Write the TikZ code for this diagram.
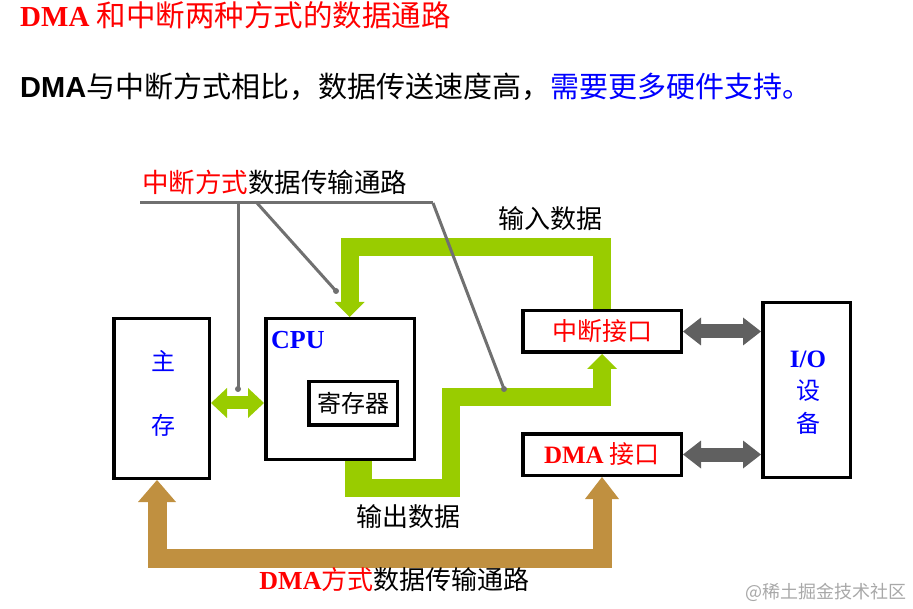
\documentclass[tikz,border=0pt]{standalone}
\usepackage{fontspec}
\usepackage{xcolor}
\usetikzlibrary{arrows.meta}
\setmainfont{Liberation Serif}
\newfontfamily\cjk{Noto Sans CJK SC}
\newfontfamily\sansf{Liberation Sans}
\definecolor{pathgreen}{HTML}{99CC00}
\definecolor{pathbrown}{HTML}{C09040}
\definecolor{portgray}{HTML}{606060}
\definecolor{tapgray}{HTML}{707070}
\definecolor{markgray}{HTML}{A8A8A8}
\newcommand{\zh}[1]{{\cjk #1}}
\newcommand{\sz}[1]{\fontsize{#1}{#1}\selectfont}

\begin{document}
\begin{tikzpicture}[x=1pt,y=-1pt]
\tikzstyle{every node}+=[inner sep=0pt]
\tikzstyle{unit}=[draw=black,line width=3.5pt,fill=white,outer sep=1.75pt]
\tikzstyle{greenflow}=[draw=pathgreen,line width=18pt,line join=miter,-{Triangle[width=30pt,length=15pt,line width=0pt]}]
\tikzstyle{greenbus}=[draw=pathgreen,line width=13pt,{Triangle[width=30pt,length=16pt,line width=0pt]}-{Triangle[width=30pt,length=16pt,line width=0pt]}]
\tikzstyle{brownflow}=[draw=pathbrown,line width=19pt,line join=miter,{Triangle[width=38pt,length=22pt,line width=0pt]}-{Triangle[width=34pt,length=22pt,line width=0pt]}]
\tikzstyle{portbus}=[draw=portgray,line width=14pt,{Triangle[width=28pt,length=18pt,line width=0pt]}-{Triangle[width=28pt,length=18pt,line width=0pt]}]
\tikzstyle{tap}=[draw=tapgray,line width=3pt]
\tikzstyle{tapdot}=[circle,fill=tapgray,minimum size=6pt]
\useasboundingbox (0,0) rectangle (913,609);
\node[anchor=west,text=red] (head) at (20,15) {\sz{29}\bfseries DMA \mdseries\zh{\sz{29.5}和中断两种方式的数据通路}};
\node[anchor=west] (claim) at (20,87) {\sz{29}{\sansf\bfseries DMA}\zh{与中断方式相比，数据传送速度高，\textcolor{blue}{需要更多硬件支持。}}};
\node[unit,minimum width=95.5pt,minimum height=159.5pt] (mem) at (161.5,398.5) {};
\node[text=blue,font=\cjk\sz{24}] (memA) at (163,361) {主};
\node[text=blue,font=\cjk\sz{24}] (memB) at (163,425) {存};
\node[unit,minimum width=148.5pt,minimum height=140.5pt] (cpu) at (340,389) {};
\node[anchor=west,text=blue,font=\bfseries\sz{26}] (cpulbl) at (271,340) {CPU};
\node[unit,minimum width=88.5pt,minimum height=43.5pt,font=\cjk\sz{24}] (reg) at (353,403.5) {寄存器};
\node[unit,minimum width=158.5pt,minimum height=41.5pt,text=red,font=\cjk\sz{25}] (intf) at (602,331.5) {中断接口};
\node[unit,minimum width=158.5pt,minimum height=41.5pt,text=red,font=\sz{25}] (dmaif) at (602,454.5) {\bfseries DMA \mdseries\zh{接口}};
\node[unit,minimum width=87.5pt,minimum height=174.5pt] (io) at (806.5,390) {};
\node[text=blue,font=\bfseries\sz{25}] (ioA) at (808,359) {I/O};
\node[text=blue,font=\cjk\sz{24}] (ioB) at (808,391) {设};
\node[text=blue,font=\cjk\sz{24}] (ioC) at (808,423) {备};
\draw[greenbus] ([yshift=-4.5pt]mem.east) -- ([yshift=-4.5pt]mem.east -| cpu.west);
\draw[greenflow] (intf.north) -- ++(0,-61.5) -| ([xshift=9.5pt]cpu.north);
\fill[pathgreen] (345,461) rectangle (372,497);
\draw[greenflow] ([xshift=18.5pt]cpu.south) |- (451,487.5) |- ([yshift=-43.5pt]intf.south) -- (intf.south);
\draw[brownflow] ([xshift=-4.5pt]mem.south) |- ([yshift=-81.5pt]dmaif.south) -- (dmaif.south);
\draw[portbus] (intf.east) -- (intf.east -| io.west);
\draw[portbus] (dmaif.east) -- (dmaif.east -| io.west);
\node[font=\cjk\sz{26}] (inlbl) at (550,219) {输入数据};
\node[font=\cjk\sz{26}] (outlbl) at (408.5,517) {输出数据};
\node[font=\cjk\sz{26.5}] (intlbl) at (274.5,182) {\textcolor{red}{中断方式}数据传输通路};
\node[font=\sz{26}] (dmalbl) at (394.5,580) {\textcolor{red}{\bfseries DMA\mdseries\cjk 方式}\zh{数据传输通路}};
\coordinate (callL) at (140,203);
\coordinate (callR) at (433,203);
\coordinate (tapA) at (238,203);
\coordinate (tapB) at (257,203);
\node[tapdot] (dotA) at (238,389) {};
\node[tapdot] (dotB) at (336,291) {};
\node[tapdot] (dotC) at (504,389) {};
\draw[tap] (callL) -- (callR);
\draw[tap] (tapA) -- (dotA.center);
\draw[tap] (tapB) -- (dotB.center);
\draw[tap] (callR) -- (dotC.center);
\node[anchor=east,text=markgray,font=\cjk\sz{18}] (mark) at (907,592) {@稀土掘金技术社区};
\end{tikzpicture}
\end{document}
